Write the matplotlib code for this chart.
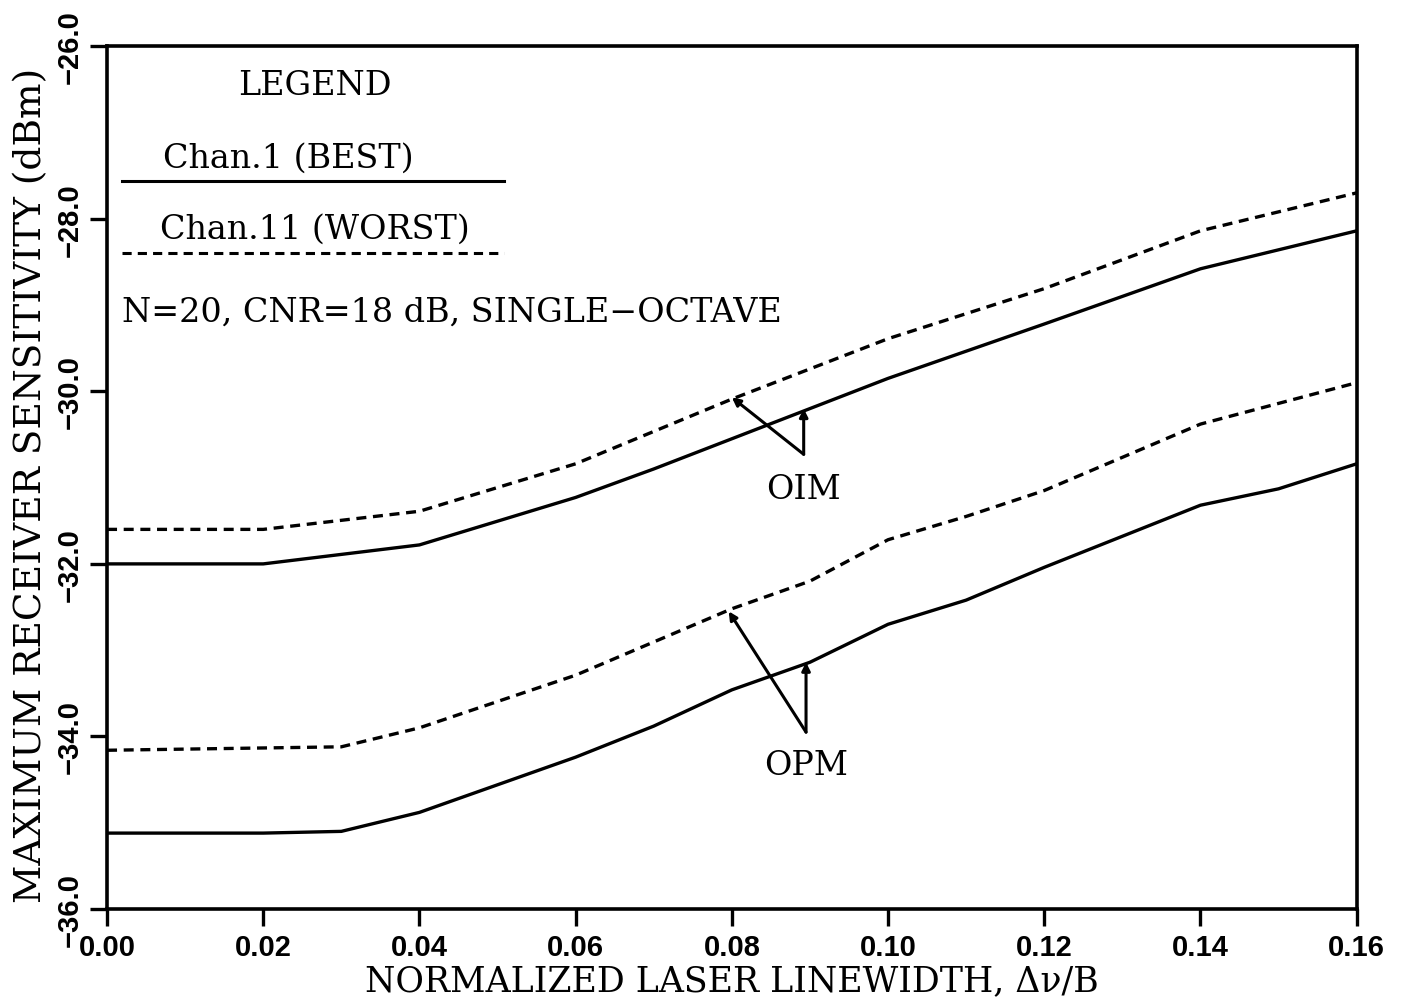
import matplotlib
matplotlib.use("Agg")
import matplotlib.pyplot as plt

# Data
oim_best_x = [0.00, 0.02, 0.04, 0.06, 0.07, 0.08, 0.09, 0.10, 0.12, 0.14, 0.16]
oim_best_y = [-32.0, -32.0, -31.78, -31.23, -30.9, -30.55, -30.2, -29.85, -29.22, -28.58, -28.14]

oim_worst_x = [0.00, 0.02, 0.04, 0.06, 0.08, 0.10, 0.12, 0.14, 0.16]
oim_worst_y = [-31.6, -31.6, -31.39, -30.84, -30.09, -29.39, -28.81, -28.14, -27.7]

opm_best_x = [0.00, 0.02, 0.03, 0.04, 0.06, 0.07, 0.08, 0.09, 0.10, 0.11, 0.12, 0.14, 0.15, 0.16]
opm_best_y = [-35.12, -35.12, -35.1, -34.88, -34.24, -33.88, -33.46, -33.14, -32.7, -32.42, -32.04, -31.32, -31.13, -30.84]

opm_worst_x = [0.00, 0.03, 0.04, 0.06, 0.08, 0.09, 0.10, 0.11, 0.12, 0.14, 0.16]
opm_worst_y = [-34.16, -34.12, -33.9, -33.29, -32.52, -32.2, -31.72, -31.45, -31.15, -30.38, -29.9]

x_ticks = [0.00, 0.02, 0.04, 0.06, 0.08, 0.10, 0.12, 0.14, 0.16]
x_tick_labels = ["0.00", "0.02", "0.04", "0.06", "0.08", "0.10", "0.12", "0.14", "0.16"]
y_ticks = [-36.0, -34.0, -32.0, -30.0, -28.0, -26.0]
y_tick_labels = ["\u221236.0", "\u221234.0", "\u221232.0", "\u221230.0", "\u221228.0", "\u221226.0"]

serif = ["DejaVu Serif"]
sans_bold = ["Liberation Sans"]
fs_text = 24

fig = plt.figure(figsize=(14.12, 10.04), dpi=100)
ax = fig.add_axes([0.0758, 0.0936, 0.885, 0.8594])

lw = 2.4
dash = (0, (3.0, 2.0))
ax.plot(oim_best_x, oim_best_y, color="black", lw=lw)
ax.plot(oim_worst_x, oim_worst_y, color="black", lw=lw, linestyle=dash)
ax.plot(opm_best_x, opm_best_y, color="black", lw=lw)
ax.plot(opm_worst_x, opm_worst_y, color="black", lw=lw, linestyle=dash)

ax.set_xlim(0.0, 0.16)
ax.set_ylim(-36.0, -26.0)
ax.set_xticks(x_ticks)
ax.set_xticklabels(x_tick_labels, fontfamily=sans_bold, fontweight="bold", fontsize=21)
ax.set_yticks(y_ticks)
ax.set_yticklabels(y_tick_labels, fontfamily=sans_bold, fontweight="bold", fontsize=21,
                   rotation=90, va="center")
ax.tick_params(axis="both", direction="out", length=12, width=2.4, pad=5)
for s in ax.spines.values():
    s.set_linewidth(2.6)

ax.set_xlabel("NORMALIZED LASER LINEWIDTH, \u0394\u03bd/B", fontfamily=serif, fontsize=25)
ax.set_ylabel("MAXIMUM RECEIVER SENSITIVITY (dBm)", fontfamily=serif, fontsize=27)
ax.xaxis.set_label_coords(0.5, -0.063)
ax.yaxis.set_label_coords(-0.046, 0.4925)

# Legend block (drawn as in the original)
T = ax.transAxes
ax.text(0.166, 0.955, "LEGEND", transform=T, fontfamily=serif, fontsize=fs_text, ha="center", va="center")
ax.text(0.145, 0.871, "Chan.1 (BEST)", transform=T, fontfamily=serif, fontsize=fs_text, ha="center", va="center")
ax.plot([0.012, 0.318], [0.844, 0.844], transform=T, color="black", lw=2.2)
ax.text(0.166, 0.788, "Chan.11 (WORST)", transform=T, fontfamily=serif, fontsize=fs_text, ha="center", va="center")
ax.plot([0.012, 0.318], [0.760, 0.760], transform=T, color="black", lw=2.2, linestyle=dash)
ax.text(0.012, 0.692, "N=20, CNR=18 dB, SINGLE\u2212OCTAVE", transform=T, fontfamily=serif, fontsize=fs_text,
        ha="left", va="center")

# Annotations
arrow_kw = dict(arrowstyle="-|>", color="black", lw=2.2, mutation_scale=12, shrinkA=0, shrinkB=0)
ax.annotate("", xy=(0.0800, -30.07), xytext=(0.0892, -30.73), arrowprops=arrow_kw)
ax.annotate("", xy=(0.0892, -30.2), xytext=(0.0892, -30.73), arrowprops=arrow_kw)
ax.text(0.0892, -31.13, "OIM", fontfamily=serif, fontsize=fs_text, ha="center", va="center")

ax.annotate("", xy=(0.0796, -32.55), xytext=(0.0895, -33.95), arrowprops=arrow_kw)
ax.annotate("", xy=(0.0895, -33.14), xytext=(0.0895, -33.95), arrowprops=arrow_kw)
ax.text(0.0895, -34.33, "OPM", fontfamily=serif, fontsize=fs_text, ha="center", va="center")

fig.savefig("out.png", dpi=100)
